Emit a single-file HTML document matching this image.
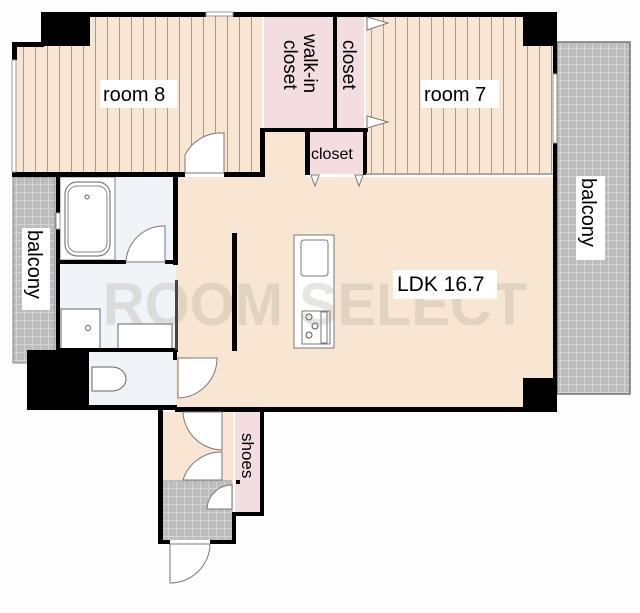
<!DOCTYPE html>
<html><head><meta charset="utf-8"><style>
html,body{margin:0;padding:0;background:#fdfdfd;}
svg{display:block;}
text{font-family:"Liberation Sans",sans-serif;}
</style></head><body>
<svg width="640" height="613" viewBox="0 0 640 613" xmlns="http://www.w3.org/2000/svg">
<defs>
<pattern id="stripe" width="12" height="10" patternUnits="userSpaceOnUse">
<rect width="12" height="10" fill="#f9e6d2"/><rect x="11" width="1" height="10" fill="#a99a8c"/>
</pattern>
<pattern id="grid" width="8" height="8" patternUnits="userSpaceOnUse">
<rect width="8" height="8" fill="#bdbdbd"/><path d="M0 0.5H8M0.5 0V8" stroke="#d4d4d4" stroke-width="1"/>
</pattern>
</defs>
<rect width="640" height="613" fill="#fdfdfd"/>
<rect x="16" y="45" width="246" height="128" fill="url(#stripe)"/>
<rect x="88" y="16" width="174" height="30" fill="url(#stripe)"/>
<rect x="366" y="16" width="188" height="158" fill="url(#stripe)"/>
<rect x="264" y="16" width="70" height="112" fill="#f3dde0"/>
<rect x="337" y="16" width="27" height="112" fill="#f3dde0"/>
<rect x="309" y="132" width="54" height="42" fill="#f3dde0"/>
<rect x="176" y="177" width="378" height="231" fill="#f9e6d2"/>
<rect x="264" y="131" width="42" height="46" fill="#f9e6d2"/>
<rect x="60" y="177" width="116" height="175" fill="#f0f3f8"/>
<rect x="88" y="352" width="88" height="54" fill="#f0f3f8"/>
<rect x="163" y="412" width="70" height="70" fill="#f9e6d2"/>
<rect x="163" y="482" width="70" height="58" fill="url(#grid)"/>
<rect x="235" y="412" width="25" height="100" fill="#f3dde0"/>
<rect x="13" y="177" width="42" height="186" fill="url(#grid)" stroke="#888" stroke-width="1"/>
<rect x="557" y="42" width="73" height="352" fill="url(#grid)" stroke="#777" stroke-width="1.5"/>
<rect x="60" y="177" width="55" height="83" fill="#fff" stroke="#555" stroke-width="0.7"/>
<rect x="65" y="182" width="45" height="74" rx="12" fill="#fff" stroke="#666"/>
<rect x="68" y="186" width="39" height="66" rx="9" fill="none" stroke="#888"/>
<circle cx="87" cy="197" r="2" fill="none" stroke="#666"/>
<rect x="61" y="309" width="39" height="40" fill="#fff" stroke="#666"/>
<rect x="118" y="324" width="54" height="25" fill="#fff" stroke="#666"/>
<circle cx="88" cy="328" r="2.5" fill="none" stroke="#666"/>
<path d="M92 367 H112 A14 12 0 0 1 112 391 H92 Z" fill="#fff" stroke="#666"/>
<rect x="294" y="235" width="40" height="113" fill="#fff" stroke="#777"/>
<rect x="301" y="240" width="27" height="36" rx="3" fill="#fff" stroke="#777"/>
<rect x="302" y="311" width="28" height="33" fill="#fff" stroke="#777"/>
<circle cx="309" cy="317" r="3" fill="none" stroke="#555"/><circle cx="315" cy="326" r="3" fill="none" stroke="#555"/><circle cx="309" cy="335" r="3" fill="none" stroke="#555"/>
<rect x="321" y="312" width="6" height="31" fill="none" stroke="#777"/>
<text x="103" y="325" font-size="60" font-weight="bold" fill="rgba(160,150,140,0.25)" textLength="424" lengthAdjust="spacingAndGlyphs">ROOM SELECT</text>
<g fill="#000">
<rect x="41" y="12" width="49" height="34"/>
<rect x="88" y="12" width="118" height="5"/>
<rect x="233" y="12" width="324" height="5"/>
<rect x="523" y="12" width="34" height="34"/>
<rect x="12" y="42" width="32" height="5"/>
<rect x="12" y="42" width="5" height="18"/>
<rect x="12" y="172" width="173" height="5"/>
<rect x="224" y="172" width="40" height="5"/>
<rect x="260" y="128" width="5" height="49"/>
<rect x="260" y="128" width="108" height="4"/>
<rect x="333" y="16" width="4" height="114"/>
<rect x="305" y="130" width="5" height="45"/>
<rect x="363" y="128" width="4" height="47"/>
<rect x="553" y="12" width="4" height="62"/>
<rect x="553" y="143" width="4" height="250"/>
<rect x="523" y="378" width="34" height="34"/>
<rect x="175" y="407" width="382" height="5"/>
<rect x="56" y="177" width="4" height="36"/>
<rect x="56" y="229" width="4" height="124"/>
<rect x="173" y="177" width="5" height="88"/>
<rect x="58" y="260" width="68" height="4"/>
<rect x="165" y="260" width="13" height="4"/>
<rect x="56" y="348" width="122" height="4"/>
<rect x="27" y="350" width="62" height="60"/>
<rect x="27" y="405" width="150" height="5"/>
<rect x="173" y="352" width="4" height="8"/>
<rect x="158" y="410" width="5" height="134"/>
<rect x="158" y="540" width="12" height="4"/>
<rect x="210" y="540" width="26" height="4"/>
<rect x="232" y="512" width="4" height="32"/>
<rect x="232" y="512" width="32" height="4"/>
<rect x="260" y="410" width="4" height="106"/>
<rect x="232" y="233" width="5" height="118"/>
<rect x="236" y="480" width="4" height="4"/>
</g>
<rect x="175" y="280" width="3" height="70" fill="#444"/>
<g fill="#fff" stroke="#999" stroke-width="1">
<rect x="206" y="12" width="27" height="4"/>
<rect x="553" y="74" width="4" height="69"/>
<rect x="12" y="60" width="4" height="112"/>
<rect x="56" y="213" width="4" height="16"/>
</g>
<line x1="163" y1="481" x2="232" y2="481" stroke="#bbb" stroke-width="2"/>
<line x1="366" y1="174" x2="553" y2="174" stroke="#aaa" stroke-width="2"/>
<g fill="#fff" stroke="#777" stroke-width="1">
<path d="M185 173 V155 A 40 40 0 0 1 224 133 V173 Z"/>
<path d="M126 262 A38 38 0 0 1 165 226 V262 Z"/>
<path d="M178 358 H217 A40 40 0 0 1 178 398 Z"/>
<path d="M183 412 H222 V450 A40 40 0 0 1 183 412 Z"/>
<path d="M222 452 V480 H183 A40 40 0 0 1 222 452 Z"/>
<path d="M232 485 V509 H207 A25 25 0 0 1 232 485 Z"/>
<path d="M170 544 H210 A40 40 0 0 1 170 583 Z"/>
<path d="M367 17 L388 23 L367 30 Z"/>
<path d="M367 116 L388 122 L367 128 Z"/>
<path d="M311 175 L315 186 L319 175 Z"/>
<path d="M355 175 L359 186 L363 175 Z"/>
</g>
<rect x="100" y="80" width="77" height="28" fill="#fff"/>
<text x="103" y="101" font-size="20">room 8</text>
<rect x="421" y="80" width="78" height="28" fill="#fff"/>
<text x="424" y="101" font-size="20">room 7</text>
<rect x="393" y="270" width="104" height="29" fill="#fff"/>
<text x="397" y="291" font-size="21">LDK 16.7</text>
<text x="311" y="159" font-size="16">closet</text>
<text transform="translate(304,34) rotate(90)" font-size="19">walk-in</text>
<text transform="translate(284,40) rotate(90)" font-size="19">closet</text>
<text transform="translate(343,40) rotate(90)" font-size="19">closet</text>
<rect x="22" y="228" width="28" height="82" fill="#fff"/>
<text transform="translate(28,230) rotate(90)" font-size="20">balcony</text>
<rect x="576" y="176" width="29" height="84" fill="#fff"/>
<text transform="translate(582,178) rotate(90)" font-size="20">balcony</text>
<text transform="translate(242,433) rotate(90)" font-size="17">shoes</text>
</svg>
</body></html>
